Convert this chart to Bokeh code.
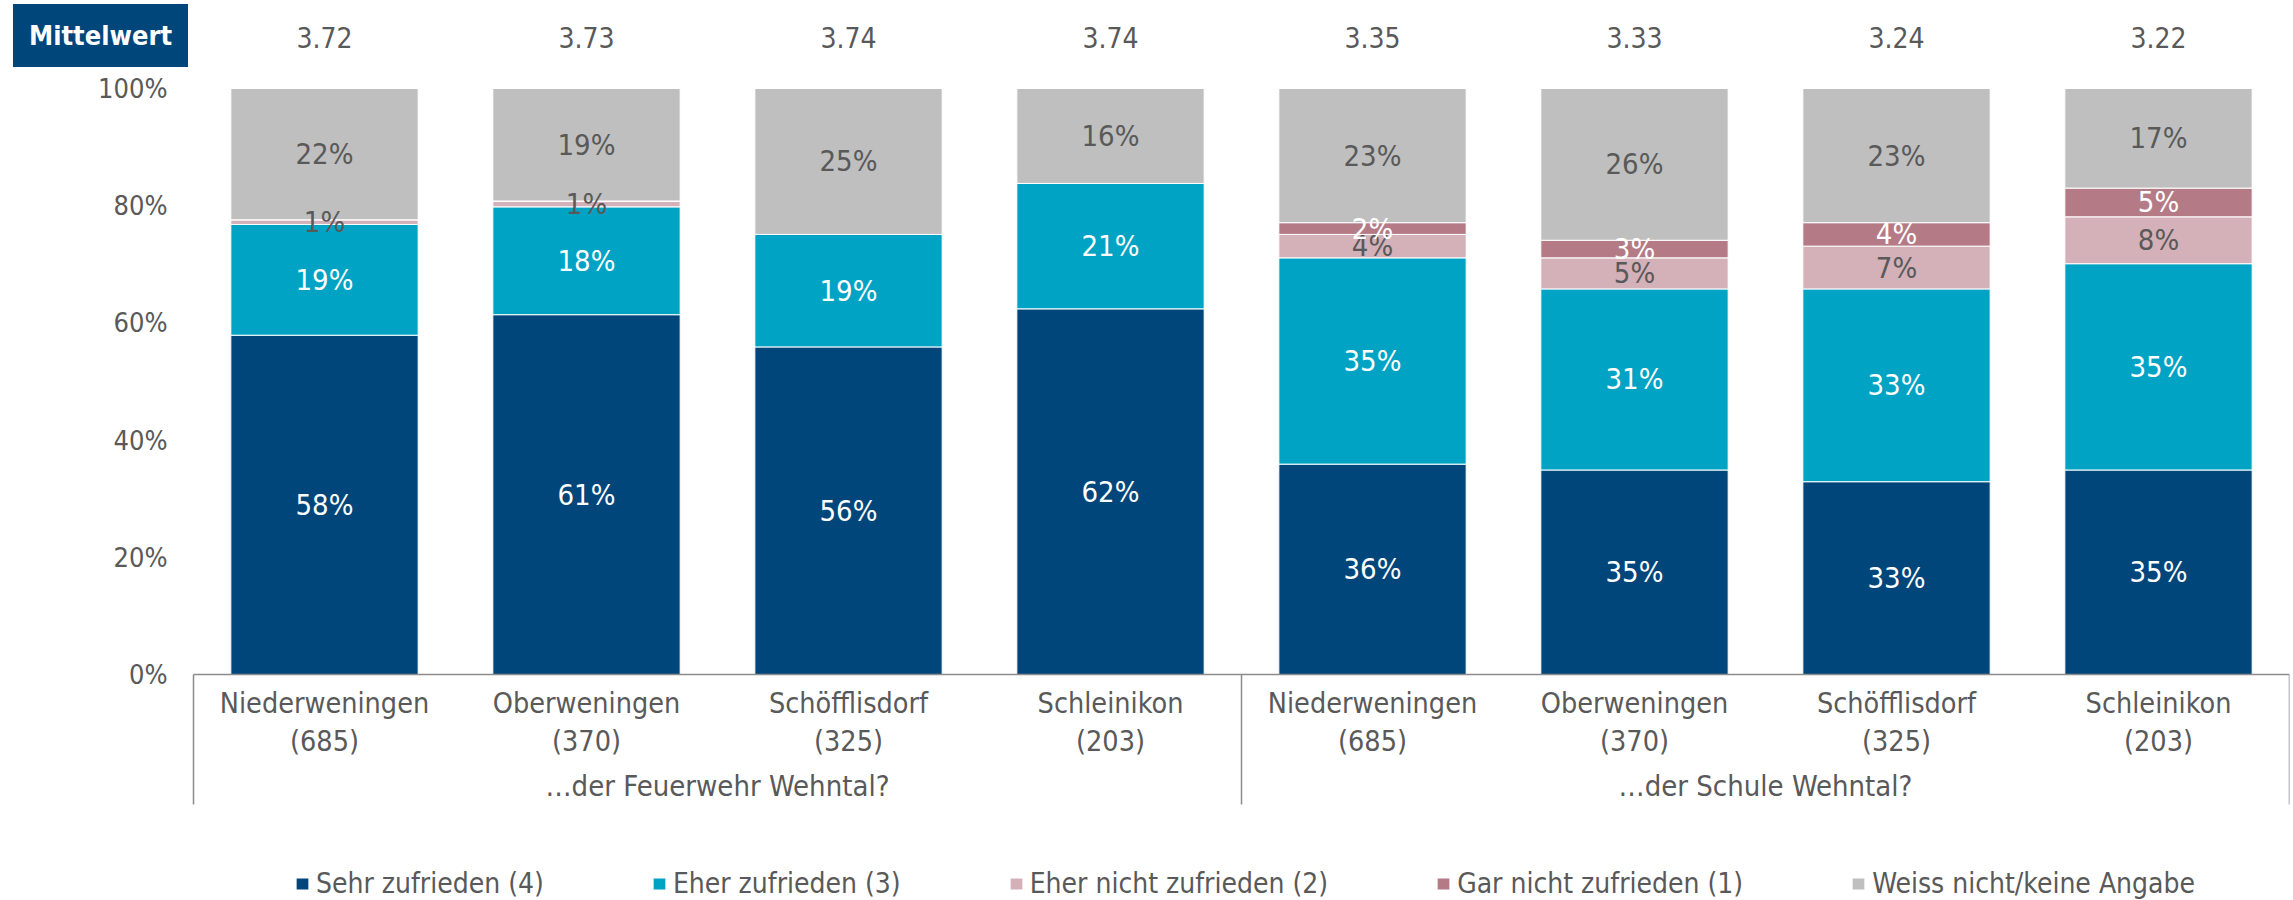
from bokeh.plotting import figure
from bokeh.models import (ColumnDataSource, Range1d, FixedTicker,
                          PrintfTickFormatter, Legend, LegendItem, Label, LinearAxis)
from bokeh.core.properties import value
from bokeh.embed import file_html
from bokeh.resources import INLINE

# ---------------- data ----------------
groups = ["…der Feuerwehr Wehntal?", "…der Schule Wehntal?"]
places = ["Niederweningen", "Oberweningen", "Schöfflisdorf", "Schleinikon"]
counts = [685, 370, 325, 203]
means = [3.72, 3.73, 3.74, 3.74, 3.35, 3.33, 3.24, 3.22]

series_names = ["Sehr zufrieden (4)", "Eher zufrieden (3)", "Eher nicht zufrieden (2)",
                "Gar nicht zufrieden (1)", "Weiss nicht/keine Angabe"]
sehr = [57.9, 61.4, 55.9, 62.4, 35.9, 34.9, 32.9, 34.9]
eher = [18.9, 18.4, 19.2, 21.4, 35.2, 30.9, 32.9, 35.2]
eher_nicht = [0.8, 1.0, 0.0, 0.0, 4.0, 5.3, 7.3, 8.0]
gar_nicht = [0.0, 0.0, 0.0, 0.0, 2.0, 3.0, 4.0, 4.9]
weiss = [22.4, 19.2, 24.9, 16.2, 22.9, 25.9, 22.9, 17.0]

y_ticks = [0, 20, 40, 60, 80, 100]

# ---------------- style ----------------
colors = ["#00467A", "#00A3C4", "#D4B0B9", "#B47B87", "#BFBFBF"]
label_colors = ["white", "white", "#595959", "white", "#595959"]
FONT = "DejaVu Sans Condensed, DejaVu Sans"
TXT = "#595959"
AXIS = "#8C8C8C"

W, H = 2293, 900
plot_left, plot_right = 193, 2289   # pixel columns where the category area starts/ends
y0_px, y100_px = 674, 88            # pixel rows of 0% and 100%
ppu = (y0_px - y100_px) / 100.0     # pixels per percent
y_top = 100 + y100_px / ppu
y_bottom = -(H - y0_px) / ppu

# categories -> slot index (each category occupies one unit on the x scale)
cats = [(g, p, n) for g in groups for p, n in zip(places, counts)]
n_cat = len(cats)
n_per_group = len(places)
xs = [i + 0.5 for i in range(n_cat)]
group_x = [gi * n_per_group + n_per_group / 2 for gi in range(len(groups))]
sep_x = [gi * n_per_group for gi in range(len(groups) + 1)]
cat_labels = [f"{p}\n({n})" for g, p, n in cats]

upx = (plot_right - plot_left) / n_cat      # pixels per category
x_start = -plot_left / upx                  # room for the "Mittelwert" box and y labels

def ypix(py):
    return (y0_px - py) / ppu

def xpix(px):
    return (px - plot_left) / upx

mean_y = ypix(37)
cat_y = ypix(722)
group_y = ypix(785)
sep_bottom = ypix(804)

series = [sehr, eher, eher_nicht, gar_nicht, weiss]
keys = ["s0", "s1", "s2", "s3", "s4"]
src = ColumnDataSource(dict(x=xs, **{k: v for k, v in zip(keys, series)}))

p = figure(width=W, height=H, x_range=Range1d(x_start, n_cat),
           y_range=Range1d(y_bottom, y_top),
           output_backend="svg", toolbar_location=None,
           x_axis_location=None, y_axis_location=None,
           min_border_left=0, min_border_right=W - plot_right,
           min_border_top=0, min_border_bottom=0)
p.outline_line_color = None
p.grid.grid_line_color = None
p.background_fill_color = "white"
p.border_fill_color = "white"

# y axis, fixed at the left edge of the category area
yax = LinearAxis(fixed_location=0.0)
yax.ticker = FixedTicker(ticks=y_ticks)
yax.formatter = PrintfTickFormatter(format="%d%%")
yax.axis_line_color = None
yax.major_tick_line_color = None
yax.minor_tick_line_color = None
yax.major_tick_in = 0
yax.major_tick_out = 0
yax.major_label_standoff = 26
yax.major_label_text_font = FONT
yax.major_label_text_font_size = "27px"
yax.major_label_text_color = TXT
p.add_layout(yax, "left")

# stacked bars
renderers = p.vbar_stack(keys, x="x", width=0.715, source=src,
                         fill_color=colors, line_color="white", line_width=1)

# data labels
lx, ly, lt, lc = [], [], [], []
for i, x in enumerate(xs):
    base = 0.0
    for s, vals in enumerate(series):
        v = vals[i]
        if v > 0:
            lx.append(x)
            ly.append(base + v / 2)
            lt.append(f"{round(v)}%")
            lc.append(label_colors[s])
        base += v
p.text(x="x", y="y", text="t", text_color="c",
       source=ColumnDataSource(dict(x=lx, y=ly, t=lt, c=lc)),
       text_align="center", text_baseline="middle",
       text_font=value(FONT), text_font_size="29px")

# mean values row
p.text(x="x", y="y", text="t",
       source=ColumnDataSource(dict(x=xs, y=[mean_y] * n_cat,
                                    t=[f"{m:.2f}" for m in means])),
       text_align="center", text_baseline="middle", text_color=TXT,
       text_font=value(FONT), text_font_size="28px")

# x axis line
p.segment(x0=[sep_x[0]], y0=[0], x1=[sep_x[-1]], y1=[0],
          line_color=AXIS, line_width=1.5)

# category labels
p.text(x="x", y="y", text="t",
       source=ColumnDataSource(dict(x=xs, y=[cat_y] * n_cat, t=cat_labels)),
       text_align="center", text_baseline="middle", text_color=TXT,
       text_font=value(FONT), text_font_size="28.5px", text_line_height=1.15)

# group labels
p.text(x="x", y="y", text="t",
       source=ColumnDataSource(dict(x=group_x, y=[group_y] * len(groups), t=groups)),
       text_align="center", text_baseline="middle", text_color=TXT,
       text_font=value(FONT), text_font_size="29px")

# group separators
p.segment(x0="x", y0=0, x1="x", y1=sep_bottom,
          source=ColumnDataSource(dict(x=sep_x)), line_color=AXIS, line_width=1.5)

# "Mittelwert" box
p.add_layout(Label(x=xpix(100), y=ypix(35), text="Mittelwert", text_align="center",
                   text_baseline="middle", text_font=FONT, text_font_style="bold",
                   text_font_size="27px", text_color="white",
                   background_fill_color="#00467A", padding=16))

# legend
legend = Legend(items=[LegendItem(label=n, renderers=[r])
                       for n, r in zip(series_names, renderers)],
                orientation="horizontal", location=(294, 0),
                glyph_width=16, glyph_height=15, label_standoff=6, spacing=107,
                padding=0, margin=0, border_line_color=None,
                background_fill_alpha=0,
                label_text_font=FONT, label_text_font_size="28px",
                label_text_color=TXT)
p.add_layout(legend)

open("out.html", "w").write(file_html(p, INLINE))
